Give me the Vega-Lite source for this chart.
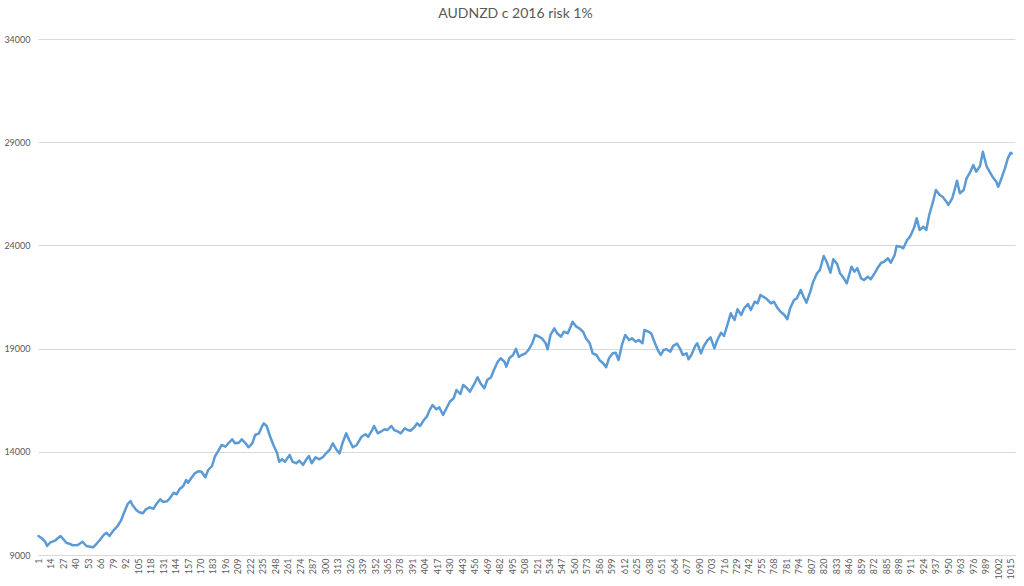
{
  "$schema": "https://vega.github.io/schema/vega-lite/v6.json",
  "autosize": {"type": "none"},
  "width": 977,
  "height": 516,
  "padding": {"left": 38, "top": 39, "right": 9, "bottom": 31},
  "background": "white",
  "title": {
    "text": "AUDNZD c 2016 risk 1%",
    "font": "Lato",
    "fontSize": 14,
    "fontWeight": "normal",
    "color": "#595959",
    "anchor": "middle",
    "dx": -11,
    "offset": 14
  },
  "config": {
    "view": {"stroke": null},
    "axis": {"labelFont": "Lato", "labelColor": "#595959", "title": null}
  },
  "data": {
    "values": [
      {"i":1,"v":9921},{"i":4,"v":9824},{"i":8,"v":9644},{"i":10,"v":9436},{"i":13,"v":9596},{"i":18,"v":9693},{"i":24,"v":9921},{"i":27,"v":9761},{"i":30,"v":9596},{"i":34,"v":9533},{"i":37,"v":9470},{"i":42,"v":9485},{"i":47,"v":9644},{"i":51,"v":9436},{"i":55,"v":9402},{"i":58,"v":9373},{"i":62,"v":9567},{"i":65,"v":9727},{"i":69,"v":9969},{"i":72,"v":10080},{"i":75,"v":9921},{"i":79,"v":10177},{"i":83,"v":10371},{"i":87,"v":10662},{"i":90,"v":11020},{"i":94,"v":11471},{"i":97,"v":11616},{"i":99,"v":11423},{"i":103,"v":11180},{"i":106,"v":11069},{"i":110,"v":11020},{"i":113,"v":11214},{"i":117,"v":11311},{"i":121,"v":11243},{"i":124,"v":11471},{"i":128,"v":11699},{"i":131,"v":11568},{"i":135,"v":11602},{"i":138,"v":11747},{"i":142,"v":12018},{"i":145,"v":11941},{"i":148,"v":12183},{"i":152,"v":12343},{"i":155,"v":12634},{"i":157,"v":12503},{"i":161,"v":12765},{"i":164,"v":12958},{"i":168,"v":13060},{"i":171,"v":13036},{"i":175,"v":12765},{"i":178,"v":13118},{"i":182,"v":13312},{"i":185,"v":13763},{"i":189,"v":14087},{"i":192,"v":14330},{"i":196,"v":14247},{"i":199,"v":14412},{"i":203,"v":14606},{"i":206,"v":14412},{"i":210,"v":14441},{"i":213,"v":14606},{"i":217,"v":14412},{"i":220,"v":14218},{"i":224,"v":14412},{"i":227,"v":14814},{"i":231,"v":14896},{"i":234,"v":15216},{"i":236,"v":15381},{"i":239,"v":15250},{"i":242,"v":14814},{"i":246,"v":14330},{"i":250,"v":13927},{"i":252,"v":13520},{"i":255,"v":13637},{"i":258,"v":13520},{"i":263,"v":13845},{"i":266,"v":13520},{"i":270,"v":13443},{"i":273,"v":13569},{"i":277,"v":13361},{"i":280,"v":13603},{"i":283,"v":13797},{"i":286,"v":13443},{"i":290,"v":13734},{"i":294,"v":13637},{"i":298,"v":13763},{"i":301,"v":13927},{"i":305,"v":14121},{"i":308,"v":14412},{"i":312,"v":14087},{"i":315,"v":13927},{"i":318,"v":14412},{"i":322,"v":14896},{"i":325,"v":14572},{"i":329,"v":14218},{"i":333,"v":14330},{"i":338,"v":14732},{"i":342,"v":14848},{"i":345,"v":14732},{"i":349,"v":15056},{"i":351,"v":15250},{"i":355,"v":14896},{"i":358,"v":14974},{"i":362,"v":15090},{"i":365,"v":15056},{"i":369,"v":15250},{"i":372,"v":15056},{"i":376,"v":14974},{"i":379,"v":14896},{"i":383,"v":15139},{"i":386,"v":15056},{"i":389,"v":15022},{"i":393,"v":15187},{"i":396,"v":15381},{"i":399,"v":15250},{"i":403,"v":15541},{"i":406,"v":15701},{"i":409,"v":16025},{"i":412,"v":16268},{"i":416,"v":16059},{"i":419,"v":16156},{"i":423,"v":15783},{"i":426,"v":16059},{"i":430,"v":16427},{"i":434,"v":16592},{"i":437,"v":16994},{"i":441,"v":16800},{"i":444,"v":17237},{"i":448,"v":17077},{"i":451,"v":16912},{"i":455,"v":17237},{"i":459,"v":17610},{"i":462,"v":17319},{"i":466,"v":17077},{"i":469,"v":17479},{"i":473,"v":17610},{"i":476,"v":17963},{"i":480,"v":18365},{"i":483,"v":18530},{"i":487,"v":18365},{"i":489,"v":18123},{"i":492,"v":18530},{"i":496,"v":18690},{"i":499,"v":18990},{"i":502,"v":18600},{"i":505,"v":18690},{"i":509,"v":18773},{"i":512,"v":18932},{"i":516,"v":19257},{"i":519,"v":19659},{"i":523,"v":19576},{"i":526,"v":19499},{"i":530,"v":19257},{"i":532,"v":18966},{"i":535,"v":19659},{"i":539,"v":19984},{"i":542,"v":19741},{"i":546,"v":19576},{"i":549,"v":19819},{"i":553,"v":19741},{"i":556,"v":20061},{"i":558,"v":20303},{"i":562,"v":20061},{"i":565,"v":19984},{"i":569,"v":19819},{"i":572,"v":19499},{"i":576,"v":19257},{"i":579,"v":18773},{"i":583,"v":18690},{"i":586,"v":18448},{"i":590,"v":18288},{"i":593,"v":18094},{"i":596,"v":18530},{"i":600,"v":18773},{"i":603,"v":18802},{"i":606,"v":18448},{"i":610,"v":19257},{"i":613,"v":19659},{"i":617,"v":19417},{"i":620,"v":19499},{"i":624,"v":19334},{"i":627,"v":19417},{"i":631,"v":19257},{"i":633,"v":19901},{"i":637,"v":19819},{"i":640,"v":19741},{"i":644,"v":19257},{"i":647,"v":18932},{"i":650,"v":18690},{"i":653,"v":18932},{"i":656,"v":18966},{"i":660,"v":18850},{"i":663,"v":19130},{"i":667,"v":19240},{"i":670,"v":19015},{"i":673,"v":18690},{"i":677,"v":18773},{"i":679,"v":18482},{"i":682,"v":18690},{"i":686,"v":19126},{"i":688,"v":19257},{"i":692,"v":18773},{"i":695,"v":19126},{"i":699,"v":19417},{"i":702,"v":19548},{"i":706,"v":19015},{"i":709,"v":19417},{"i":713,"v":19770},{"i":716,"v":19610},{"i":720,"v":20226},{"i":723,"v":20710},{"i":727,"v":20386},{"i":730,"v":20904},{"i":734,"v":20628},{"i":737,"v":20953},{"i":741,"v":21161},{"i":744,"v":20870},{"i":748,"v":21272},{"i":751,"v":21195},{"i":754,"v":21597},{"i":758,"v":21485},{"i":761,"v":21388},{"i":765,"v":21195},{"i":768,"v":21272},{"i":772,"v":20953},{"i":775,"v":20788},{"i":779,"v":20628},{"i":782,"v":20420},{"i":785,"v":20953},{"i":789,"v":21355},{"i":792,"v":21437},{"i":796,"v":21839},{"i":799,"v":21515},{"i":802,"v":21224},{"i":806,"v":21757},{"i":809,"v":22241},{"i":813,"v":22648},{"i":816,"v":22808},{"i":820,"v":23487},{"i":823,"v":23210},{"i":827,"v":22677},{"i":830,"v":23330},{"i":834,"v":23100},{"i":837,"v":22648},{"i":841,"v":22406},{"i":844,"v":22164},{"i":846,"v":22484},{"i":849,"v":22968},{"i":852,"v":22726},{"i":855,"v":22890},{"i":859,"v":22406},{"i":862,"v":22324},{"i":866,"v":22484},{"i":869,"v":22358},{"i":873,"v":22648},{"i":876,"v":22890},{"i":880,"v":23162},{"i":883,"v":23210},{"i":887,"v":23375},{"i":890,"v":23162},{"i":894,"v":23535},{"i":896,"v":23971},{"i":900,"v":23937},{"i":903,"v":23860},{"i":907,"v":24262},{"i":910,"v":24422},{"i":914,"v":24829},{"i":917,"v":25313},{"i":920,"v":24746},{"i":924,"v":24906},{"i":927,"v":24746},{"i":930,"v":25473},{"i":934,"v":26117},{"i":937,"v":26684},{"i":941,"v":26442},{"i":944,"v":26359},{"i":948,"v":26117},{"i":950,"v":25958},{"i":954,"v":26282},{"i":956,"v":26602},{"i":959,"v":27135},{"i":962,"v":26524},{"i":966,"v":26684},{"i":969,"v":27251},{"i":973,"v":27571},{"i":976,"v":27896},{"i":979,"v":27571},{"i":983,"v":27847},{"i":986,"v":28540},{"i":990,"v":27813},{"i":993,"v":27571},{"i":996,"v":27328},{"i":1000,"v":27086},{"i":1002,"v":26844},{"i":1006,"v":27328},{"i":1009,"v":27735},{"i":1012,"v":28219},{"i":1015,"v":28492},{"i":1016,"v":28450}
    ]
  },
  "mark": {"type": "line", "color": "#5B9BD5", "strokeWidth": 2.5, "strokeJoin": "round", "strokeCap": "round"},
  "encoding": {
    "x": {
      "field": "i",
      "type": "quantitative",
      "scale": {"domain": [0.5, 1019.5], "nice": false, "zero": false},
      "axis": {
        "values": [1,14,27,40,53,66,79,92,105,118,131,144,157,170,183,196,209,222,235,248,261,274,287,300,313,326,339,352,365,378,391,404,417,430,443,456,469,482,495,508,521,534,547,560,573,586,599,612,625,638,651,664,677,690,703,716,729,742,755,768,781,794,807,820,833,846,859,872,885,898,911,924,937,950,963,976,989,1002,1015],
        "labelAngle": -90,
        "labelFontSize": 9,
        "labelPadding": 3,
        "labelOverlap": false,
        "labelFlush": false,
        "ticks": false,
        "grid": false,
        "domain": true,
        "domainColor": "#D9D9D9",
        "domainWidth": 1,
        "format": "d"
      }
    },
    "y": {
      "field": "v",
      "type": "quantitative",
      "scale": {"domain": [9000, 34000], "nice": false, "zero": false},
      "axis": {
        "values": [9000, 14000, 19000, 24000, 29000, 34000],
        "labelFontSize": 9,
        "labelPadding": 8,
        "ticks": false,
        "domain": false,
        "grid": true,
        "gridColor": "#D9D9D9",
        "gridWidth": 1,
        "format": "d"
      }
    }
  }
}
